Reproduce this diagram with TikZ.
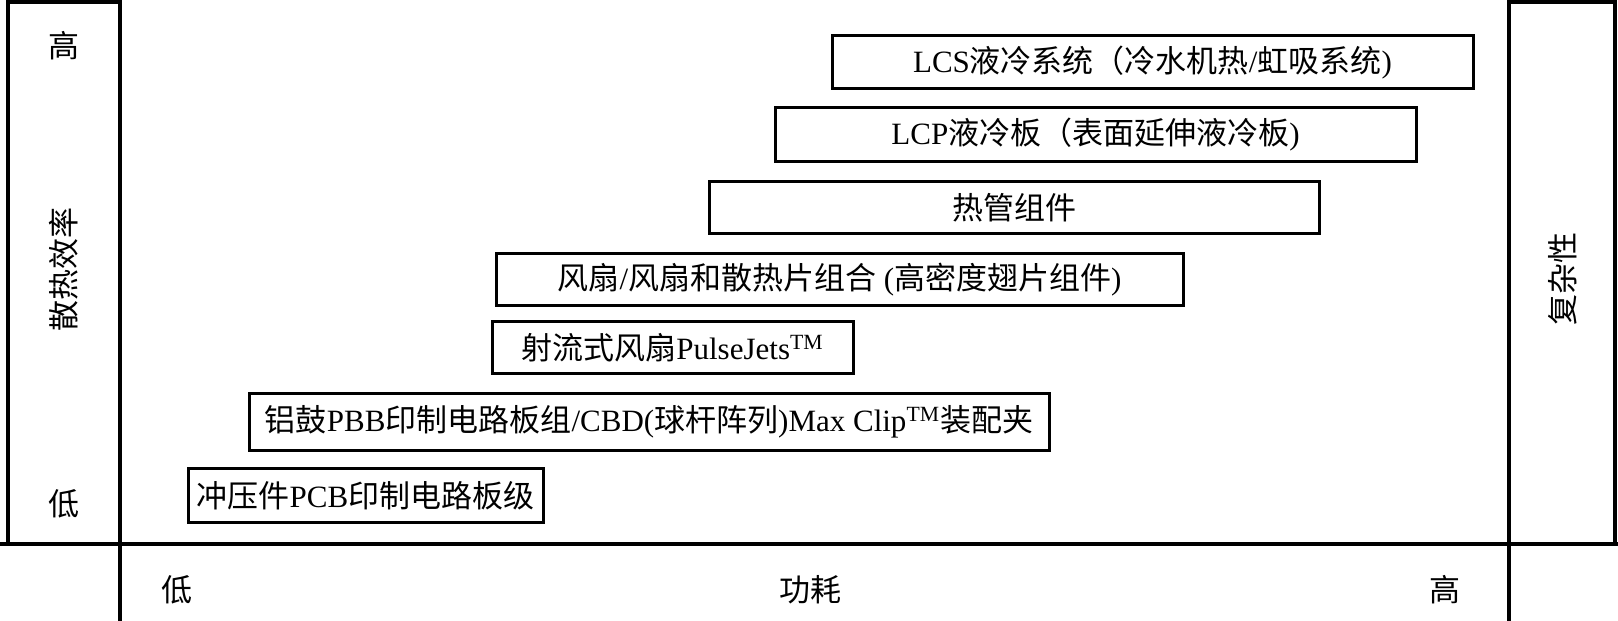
\documentclass[tikz,border=0pt]{standalone}
\usepackage{fontspec}
\setmainfont{Liberation Serif}
\newfontfamily\cjk{Noto Sans CJK SC}
\usepackage{tikz}
\newcommand{\zh}[1]{{\cjk #1}}
\newcommand{\tm}{\textsuperscript{TM}}
\tikzset{band/.style={draw,line width=1.5pt,inner sep=0pt,font=\fontsize{15.5}{18}\selectfont},
  lbl/.style={inner sep=0pt,font=\fontsize{15.5}{18}\selectfont\cjk},
  frame/.style={line width=1.6pt}}

\begin{document}
\begin{tikzpicture}[x=0.5pt,y=0.5pt]
\useasboundingbox (0,0) rectangle (1618,621);
% frame
\draw[frame] (8,77) rectangle (120,619);
\draw[frame] (1509,77) rectangle (1615,619);
\draw[frame] (0,77) -- (1618,77);
\draw[frame] (120,77) -- (120,0);
\draw[frame] (1509,77) -- (1509,0);
% axis labels
\node[lbl] (effhi) at (64,575) {高};
\node[lbl,rotate=90] (efflbl) at (64,351) {散热效率};
\node[lbl] (efflo) at (64,117) {低};
\node[lbl,rotate=90] (cplx) at (1563,342) {复杂性};
\node[lbl] (pwlo) at (177,31) {低};
\node[lbl] (pwlbl) at (810,31) {功耗};
\node[lbl] (pwhi) at (1445,31) {高};
% cooling methods
\node[band,minimum width=320.5pt,minimum height=26.5pt] (lcs) at (1152.5,558.5) {LCS\zh{液冷系统（冷水机热}/\zh{虹吸系统})};
\node[band,minimum width=320.5pt,minimum height=27pt] (lcp) at (1095.5,486.5) {LCP\zh{液冷板（表面延伸液冷板})};
\node[band,minimum width=305pt,minimum height=26pt] (heatpipe) at (1014,413) {\zh{热管组件}};
\node[band,minimum width=343.5pt,minimum height=26pt] (fan) at (839.5,341) {\zh{风扇}/\zh{风扇和散热片组合} (\zh{高密度翅片组件})};
\node[band,minimum width=180.5pt,minimum height=26pt] (jetfan) at (672.5,273) {\zh{射流式风扇}PulseJets\tm};
\node[band,minimum width=400pt,minimum height=28.5pt] (clip) at (649,199) {\zh{铝鼓}PBB\zh{印制电路板组}/CBD(\zh{球杆阵列})Max Clip\tm\zh{装配夹}};
\node[band,minimum width=177.5pt,minimum height=27pt] (stamp) at (365.5,125) {\zh{冲压件}PCB\zh{印制电路板级}};
\end{tikzpicture}
\end{document}
